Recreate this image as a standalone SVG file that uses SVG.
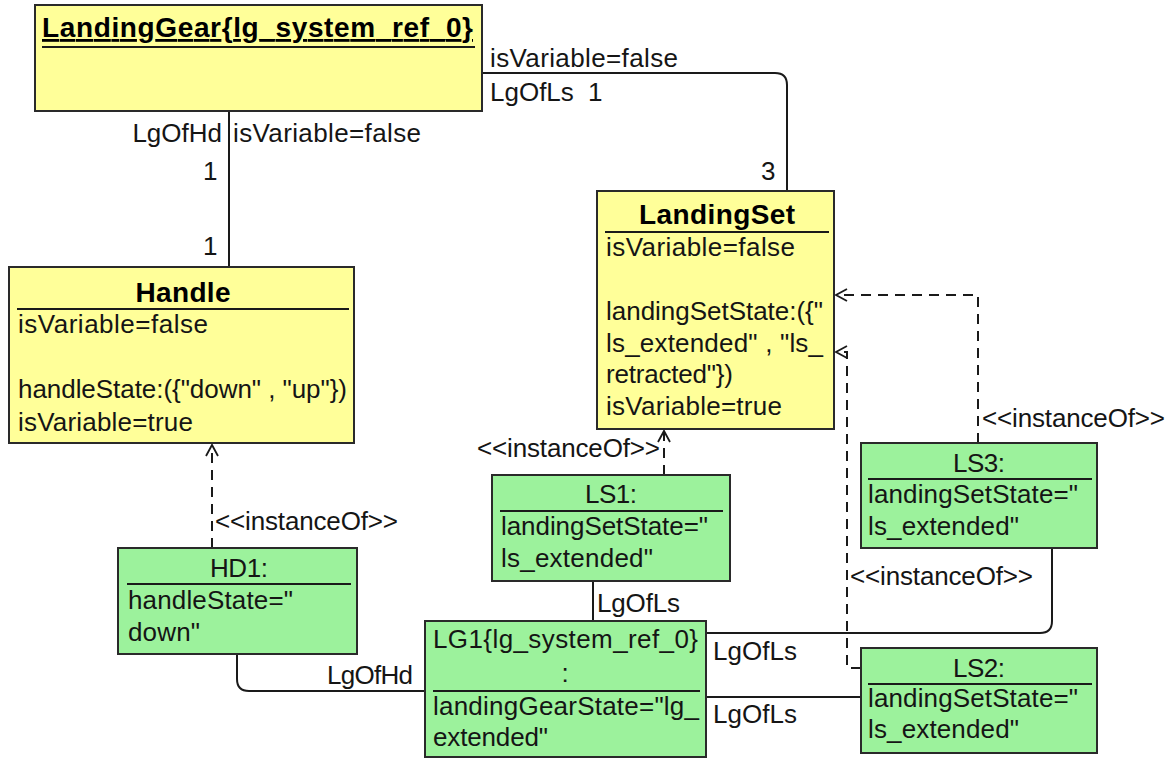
<svg xmlns="http://www.w3.org/2000/svg" width="1175" height="759" viewBox="0 0 1175 759">
<style>
  .bg { fill: #ffffff; }
  .cls { fill: #FFFF99; stroke: #2a2a2a; stroke-width: 2; }
  .obj { fill: #9CF29C; stroke: #2a2a2a; stroke-width: 2; }
  .sep { stroke: #1a1a1a; stroke-width: 2; }
  .t { font-family: "Liberation Sans", Arial, sans-serif; font-size: 26px; fill: #151515; }
  .b { font-family: "Liberation Sans", Arial, sans-serif; font-size: 28px; font-weight: bold; fill: #000; }
  .m { text-anchor: middle; }
  .e { text-anchor: end; }
  .line { fill: none; stroke: #1a1a1a; stroke-width: 2; }
  .dash { fill: none; stroke: #1a1a1a; stroke-width: 2; stroke-dasharray: 10 7; }
</style>
<defs>
  <marker id="open" viewBox="-13 -8 15 16" refX="0" refY="0" markerWidth="15" markerHeight="16" orient="auto" markerUnits="userSpaceOnUse">
    <path d="M-11,-6 L0,0 L-11,6" fill="none" stroke="#1a1a1a" stroke-width="1.8"/>
  </marker>
</defs>
<rect class="bg" x="0" y="0" width="1175" height="759"/>

<g id="connectors">
  <path class="line" d="M229,111 V267"/>
  <path class="line" d="M482,73 H775 Q787,73 787,85 V191"/>
  <path class="line" d="M237,654 V679 Q237,691 249,691 H425"/>
  <path class="line" d="M593,581 V621"/>
  <path class="line" d="M1052,548 V621 Q1052,633 1040,633 H706"/>
  <path class="line" d="M706,697 H861"/>
  <path class="dash" d="M212,548 V445" marker-end="url(#open)"/>
  <path class="dash" d="M664,475 V431" marker-end="url(#open)"/>
  <path class="dash" d="M978,443 V295 H836" marker-end="url(#open)"/>
  <path class="dash" d="M861,668 H847 V352 H836" marker-end="url(#open)"/>
  <text class="t e" x="222" y="142">LgOfHd</text>
  <text class="t" x="233" y="142" textLength="188">isVariable=false</text>
  <text class="t" x="203" y="180">1</text>
  <text class="t" x="203" y="255">1</text>
  <text class="t" x="490" y="67" textLength="188">isVariable=false</text>
  <text class="t" x="490" y="101">LgOfLs</text>
  <text class="t" x="588" y="101">1</text>
  <text class="t" x="761" y="180">3</text>
  <text class="t" x="215" y="530" textLength="183">&lt;&lt;instanceOf&gt;&gt;</text>
  <text class="t" x="477" y="457" textLength="183">&lt;&lt;instanceOf&gt;&gt;</text>
  <text class="t" x="982" y="427" textLength="183">&lt;&lt;instanceOf&gt;&gt;</text>
  <text class="t" x="850" y="585" textLength="183">&lt;&lt;instanceOf&gt;&gt;</text>
  <text class="t" x="327" y="684" textLength="86">LgOfHd</text>
  <text class="t" x="597" y="612" textLength="83">LgOfLs</text>
  <text class="t" x="713" y="660" textLength="84">LgOfLs</text>
  <text class="t" x="713" y="723" textLength="84">LgOfLs</text>
</g>

<g id="LandingGear">
  <rect class="cls" x="35" y="5" width="447" height="106"/>
  <text class="b" x="42" y="37" textLength="431" text-decoration="underline">LandingGear{lg_system_ref_0}</text>
  <line class="sep" x1="42" y1="47" x2="475" y2="47"/>
</g>

<g id="Handle">
  <rect class="cls" x="9" y="267" width="345" height="176"/>
  <text class="b m" x="183" y="302" textLength="95">Handle</text>
  <line class="sep" x1="17" y1="309" x2="349" y2="309"/>
  <text class="t" x="18" y="333" textLength="190">isVariable=false</text>
  <text class="t" x="18" y="398" textLength="329">handleState:({"down" , "up"})</text>
  <text class="t" x="18" y="431" textLength="175">isVariable=true</text>
</g>

<g id="LandingSet">
  <rect class="cls" x="597" y="191" width="237" height="238"/>
  <text class="b m" x="717" y="224" textLength="156">LandingSet</text>
  <line class="sep" x1="605" y1="232" x2="829" y2="232"/>
  <text class="t" x="606" y="256" textLength="189">isVariable=false</text>
  <text class="t" x="606" y="320" textLength="217">landingSetState:({"</text>
  <text class="t" x="606" y="352" textLength="217">ls_extended" , "ls_</text>
  <text class="t" x="606" y="383" textLength="127">retracted"})</text>
  <text class="t" x="606" y="415" textLength="176">isVariable=true</text>
</g>

<g id="HD1">
  <rect class="obj" x="118" y="548" width="239" height="106"/>
  <text class="t m" x="239" y="577" textLength="58">HD1:</text>
  <line class="sep" x1="127" y1="584" x2="351" y2="584"/>
  <text class="t" x="128" y="609" textLength="165">handleState="</text>
  <text class="t" x="128" y="641" textLength="72">down"</text>
</g>

<g id="LG1">
  <rect class="obj" x="425" y="621" width="281" height="136"/>
  <text class="t" x="433" y="648" textLength="265">LG1{lg_system_ref_0}</text>
  <text class="t m" x="565" y="682">:</text>
  <line class="sep" x1="433" y1="691" x2="700" y2="691"/>
  <text class="t" x="433" y="715" textLength="266">landingGearState="lg_</text>
  <text class="t" x="433" y="746" textLength="115">extended"</text>
</g>

<g id="LS1">
  <rect class="obj" x="492" y="475" width="238" height="106"/>
  <text class="t m" x="611" y="503" textLength="52">LS1:</text>
  <line class="sep" x1="500" y1="511" x2="723" y2="511"/>
  <text class="t" x="501" y="535" textLength="207">landingSetState="</text>
  <text class="t" x="501" y="567" textLength="152">ls_extended"</text>
</g>

<g id="LS3">
  <rect class="obj" x="861" y="443" width="236" height="105"/>
  <text class="t m" x="979" y="472" textLength="52">LS3:</text>
  <line class="sep" x1="868" y1="479" x2="1092" y2="479"/>
  <text class="t" x="868" y="503" textLength="210">landingSetState="</text>
  <text class="t" x="868" y="535" textLength="151">ls_extended"</text>
</g>

<g id="LS2">
  <rect class="obj" x="861" y="648" width="236" height="105"/>
  <text class="t m" x="979" y="677" textLength="52">LS2:</text>
  <line class="sep" x1="868" y1="684" x2="1092" y2="684"/>
  <text class="t" x="868" y="707" textLength="210">landingSetState="</text>
  <text class="t" x="868" y="738" textLength="151">ls_extended"</text>
</g>
</svg>
